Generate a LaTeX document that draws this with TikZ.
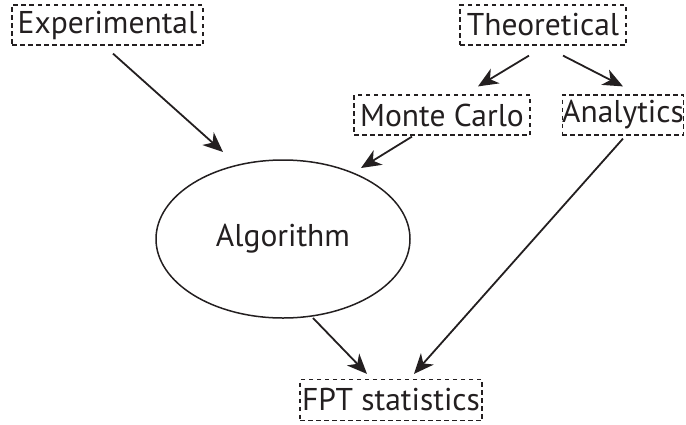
\documentclass[tikz,border=0pt]{standalone}
\usepackage{fontspec}
\setmainfont{PT Sans}
\usetikzlibrary{shapes.geometric,arrows.meta,calc}
\definecolor{ink}{HTML}{231F20}
\begin{document}
\begin{tikzpicture}[x=1pt,y=-1pt,
  lbl/.style={draw=ink, dashed, dash pattern=on 4.5pt off 3.5pt, line width=1.2pt, inner sep=0pt,
    minimum height=40pt, font=\fontsize{31.5}{36}\selectfont, text=ink},
  arr/.style={line width=1.8pt, -{Stealth[length=20pt,width=17pt,inset=6pt]}, ink}]
\useasboundingbox (0,0) rectangle (686,424);
\node[lbl, minimum width=191pt] (exp) at (107.5,25) {Experimental};
\node[lbl, minimum width=166pt] (theo) at (543,25) {Theoretical};
\node[lbl, minimum width=176pt] (mc) at (442,115) {Monte Carlo};
\node[lbl, minimum width=120pt] (ana) at (623,115) {Analytics};
\node[lbl, minimum width=182pt, minimum height=41pt] (fpt) at (391,400) {FPT statistics};
\node[ellipse, draw=ink, line width=1.5pt, minimum width=254pt, minimum height=158pt, inner sep=0pt,
  font=\fontsize{31.5}{36}\selectfont, text=ink] (alg) at (283,239) {Algorithm};
\draw[arr] ($(exp.south)+(5.5,8)$) -- ($(alg.center)+(-60,-87)$);
\draw[arr] ($(theo.south)+(-14,10)$) -- ($(mc.north)+(36,-8)$);
\draw[arr] ($(theo.south)+(20,10)$) -- ($(ana.north)+(0,-8)$);
\draw[arr] ($(mc.south)+(-30,1)$) -- ($(alg.center)+(78,-71)$);
\draw[arr] ($(ana.south)+(0,3)$) -- ($(fpt.north)+(23,-5)$);
\draw[arr] ($(alg.center)+(30,79)$) -- ($(fpt.north)+(-24,-5)$);
\end{tikzpicture}
\end{document}
